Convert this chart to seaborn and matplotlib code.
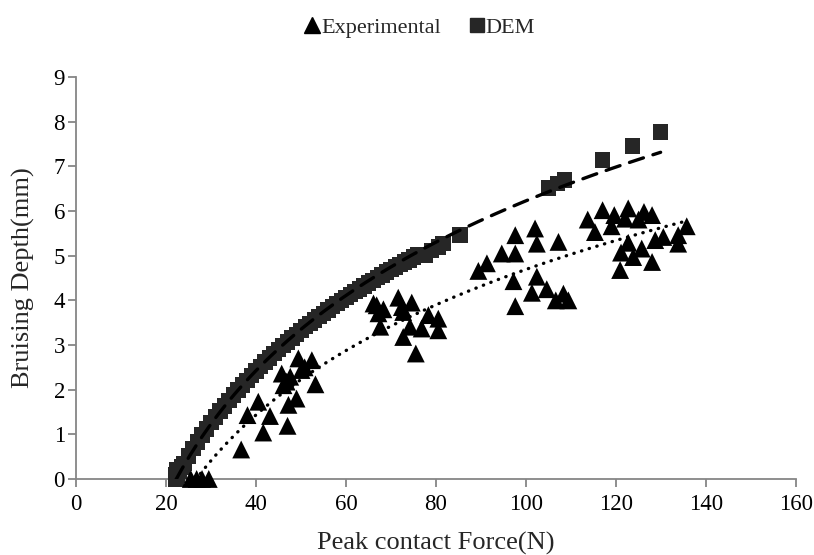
import numpy as np
import pandas as pd
import matplotlib
matplotlib.use("Agg")
import matplotlib.pyplot as plt
import seaborn as sns
from matplotlib.lines import Line2D

# ---- data ----
exp_force = [25.5, 26.8, 28.0, 29.5, 36.7, 38.1, 40.5, 41.6, 43.1, 45.7, 46.1, 46.8,
             47.0, 47.2, 47.6, 49.0, 49.4, 50.1, 50.8, 52.4, 53.2,
             66.1, 66.8, 67.2, 67.6, 68.3, 71.6, 72.4, 72.7, 72.7, 74.2, 74.6, 75.5,
             76.8, 78.3, 80.5, 80.5,
             89.4, 91.3, 94.6, 97.6, 97.6, 102.0, 102.4, 107.2, 97.2, 102.4, 101.3,
             104.6, 106.6, 108.3, 109.4, 97.6,
             113.7, 115.3, 117.0, 119.6, 119.0, 122.7, 122.0, 125.0, 126.2, 128.0,
             122.7, 121.1, 123.8, 125.7, 120.9, 128.0, 128.7, 130.5, 133.8, 133.8, 135.7]
exp_depth = [0.0, 0.0, 0.0, 0.0, 0.66, 1.43, 1.73, 1.04, 1.41, 2.36, 2.10, 2.18,
             1.19, 1.66, 2.29, 1.80, 2.70, 2.44, 2.50, 2.66, 2.12,
             3.93, 3.89, 3.71, 3.41, 3.80, 4.06, 3.85, 3.74, 3.18, 3.41, 3.95, 2.81,
             3.37, 3.67, 3.59, 3.33,
             4.66, 4.83, 5.05, 5.05, 5.46, 5.61, 5.27, 5.31, 4.43, 4.53, 4.17,
             4.25, 4.00, 4.15, 4.00, 3.87,
             5.81, 5.53, 6.02, 5.91, 5.66, 6.06, 5.83, 5.81, 5.98, 5.91,
             5.29, 5.07, 4.97, 5.16, 4.68, 4.86, 5.35, 5.42, 5.46, 5.27, 5.66]

dem_force = [22.2, 22.2, 22.3, 22.5, 23.0, 23.5, 24.0, 25.0, 26.0, 27.0, 28.0, 29.0,
             30.0, 31.0, 32.0, 33.0, 34.0, 35.0, 36.0, 37.0, 38.0, 39.0, 40.0,
             41.0, 42.0, 43.0, 44.0, 45.0, 46.0, 47.0, 48.0, 49.0, 50.0, 51.0,
             52.0, 53.0, 54.0, 55.0, 56.0, 57.0, 58.0, 59.0, 60.0, 61.0, 62.0,
             63.0, 64.0, 65.0, 66.0, 67.0, 68.0, 69.0, 70.0, 71.0, 72.0, 73.0,
             74.0, 75.0, 76.0, 77.6, 79.0, 80.5, 81.6, 85.3,
             105.0, 107.0, 108.5, 117.0, 123.6, 129.9]
dem_depth = [0.00, 0.10, 0.20, 0.09, 0.18, 0.27, 0.35, 0.52, 0.68, 0.83, 0.98, 1.12,
             1.26, 1.39, 1.52, 1.64, 1.76, 1.88, 1.99, 2.11, 2.21, 2.32, 2.42,
             2.52, 2.62, 2.71, 2.81, 2.90, 2.99, 3.07, 3.16, 3.24, 3.33, 3.41,
             3.48, 3.56, 3.64, 3.71, 3.78, 3.86, 3.93, 4.00, 4.06, 4.13, 4.20,
             4.26, 4.32, 4.39, 4.45, 4.51, 4.57, 4.63, 4.69, 4.75, 4.80, 4.86,
             4.91, 4.97, 5.02, 5.02, 5.12, 5.20, 5.27, 5.46,
             6.52, 6.62, 6.70, 7.14, 7.46, 7.77]

x_ticks = [0, 20, 40, 60, 80, 100, 120, 140, 160]
y_ticks = [0, 1, 2, 3, 4, 5, 6, 7, 8, 9]

# ---- style ----
sns.set_style("white")
plt.rcParams["font.family"] = ["Liberation Serif", "DejaVu Serif"]

fig = plt.figure(figsize=(8.14, 5.55), dpi=100)
ax = fig.add_axes([0.0934, 0.137, 0.8846, 0.724])

exp_df = pd.DataFrame({"force": exp_force, "depth": exp_depth})
dem_df = pd.DataFrame({"force": dem_force, "depth": dem_depth})

sns.scatterplot(data=dem_df, x="force", y="depth", marker="s", s=125,
                color="#262626", edgecolor="none", ax=ax, clip_on=False, zorder=3)
sns.scatterplot(data=exp_df, x="force", y="depth", marker="^", s=165,
                color="black", edgecolor="none", ax=ax, clip_on=False, zorder=4)


def log_trend(xs, ys):
    xs = np.asarray(xs, float)
    ys = np.asarray(ys, float)
    a, b = np.polyfit(np.log(xs), ys, 1)
    xx = np.linspace(xs.min(), xs.max(), 400)
    return xx, a * np.log(xx) + b


dx, dy = log_trend(dem_force, dem_depth)
ex, ey = log_trend(exp_force, exp_depth)

sns.lineplot(x=dx, y=dy, ax=ax, color="black", linewidth=2.4, zorder=5)
ax.lines[-1].set_linestyle((0, (4.4, 3.0)))
ax.lines[-1].set_dash_capstyle("round")
sns.lineplot(x=ex, y=ey, ax=ax, color="black", linewidth=2.4, zorder=5)
ax.lines[-1].set_linestyle((0, (0.1, 2.3)))
ax.lines[-1].set_dash_capstyle("round")

ax.set_xlim(0, 160)
ax.set_ylim(0, 9)
ax.set_xticks(x_ticks)
ax.set_yticks(y_ticks)
ax.set_xticklabels([str(t) for t in x_ticks])
ax.set_yticklabels([str(t) for t in y_ticks])
ax.set_xlabel("Peak contact Force(N)", fontsize=19, labelpad=12)
ax.set_ylabel("Bruising Depth(mm)", fontsize=19, labelpad=13)

for side in ["top", "right"]:
    ax.spines[side].set_visible(False)
for side in ["left", "bottom"]:
    ax.spines[side].set_color("#868686")
    ax.spines[side].set_linewidth(1.3)
ax.tick_params(axis="both", direction="out", length=6, width=1.3,
               color="#868686", labelsize=16.5, labelcolor="black", pad=5)
ax.tick_params(axis="y", pad=2)
ax.tick_params(left=True, bottom=True)

handles = [Line2D([], [], marker="^", color="black", linestyle="none", markersize=11),
           Line2D([], [], marker="s", color="#262626", linestyle="none", markersize=9.5)]
fig.legend(handles, ["Experimental", "DEM"], loc="center", bbox_to_anchor=(0.515, 0.95),
           ncol=2, frameon=False, fontsize=16, handletextpad=0.0,
           columnspacing=1.2, handlelength=0.8)

fig.savefig("out.png", dpi=100)
